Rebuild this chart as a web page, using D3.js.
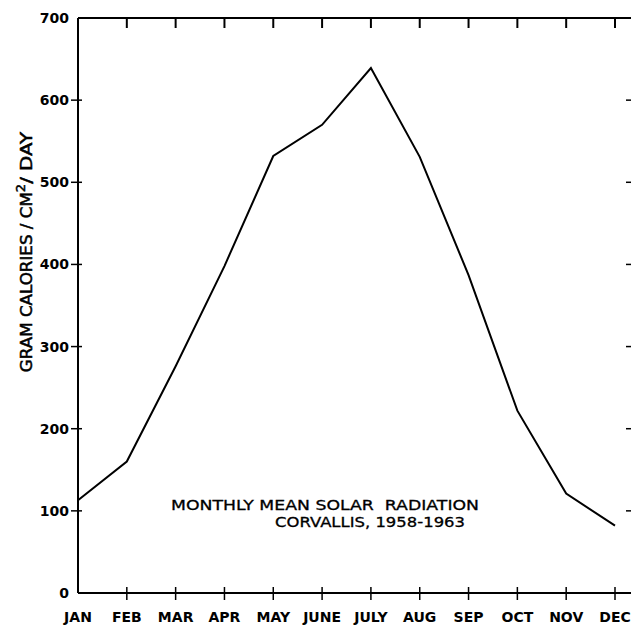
<!DOCTYPE html>
<html>
<head>
<meta charset="utf-8">
<script src="https://d3js.org/d3.v7.min.js"></script>
<style>
  body { margin: 0; background: #fff; }
  svg text { font-family: "DejaVu Sans", sans-serif; fill: #000; }
</style>
</head>
<body>
<div class="chart"></div>
<script>
// data
const months = ["JAN", "FEB", "MAR", "APR", "MAY", "JUNE", "JULY", "AUG", "SEP", "OCT", "NOV", "DEC"];
const radiation = [113, 160, 276, 398, 532, 570, 639, 531, 387, 222, 121, 82];
const yTicks = [0, 100, 200, 300, 400, 500, 600, 700];
const titleLines = ["MONTHLY MEAN SOLAR  RADIATION", "CORVALLIS, 1958-1963"];

const width = 631, height = 627;
const svg = d3.select(".chart").append("svg")
    .attr("width", width)
    .attr("height", height);

const x = d3.scalePoint().domain(months).range([78, 615]);
const y = d3.scaleLinear().domain([0, 700]).range([593, 18]);

const axes = svg.append("g")
    .attr("stroke", "#000")
    .attr("fill", "none");

// left + bottom + top frame
axes.append("line").attr("x1", 78).attr("x2", 78).attr("y1", y(0)).attr("y2", y(700)).attr("stroke-width", 2);
axes.append("line").attr("x1", 78).attr("x2", width).attr("y1", y(0)).attr("y2", y(0)).attr("stroke-width", 2);
axes.append("line").attr("x1", 78).attr("x2", width).attr("y1", y(700)).attr("y2", y(700)).attr("stroke-width", 2);

// y ticks on left (crossing) and right edge
axes.selectAll(".ytick")
    .data(yTicks.filter(d => d > 0 && d < 700))
    .enter().append("line")
    .attr("x1", 71).attr("x2", 82)
    .attr("y1", d => y(d)).attr("y2", d => y(d))
    .attr("stroke-width", 1.5);

axes.selectAll(".ytickr")
    .data(yTicks.filter(d => d > 0 && d < 700))
    .enter().append("line")
    .attr("x1", 626).attr("x2", width)
    .attr("y1", d => y(d)).attr("y2", d => y(d))
    .attr("stroke-width", 1.5);

// month ticks, bottom and top
axes.selectAll(".xtick")
    .data(months.slice(1))
    .enter().append("line")
    .attr("x1", d => x(d)).attr("x2", d => x(d))
    .attr("y1", y(0) - 6).attr("y2", y(0) + 7)
    .attr("stroke-width", 1.5);

axes.selectAll(".xtickt")
    .data(months.slice(1))
    .enter().append("line")
    .attr("x1", d => x(d)).attr("x2", d => x(d))
    .attr("y1", y(700)).attr("y2", y(700) + 10)
    .attr("stroke-width", 2);

// tick labels
svg.append("g").selectAll("text")
    .data(yTicks)
    .enter().append("text")
    .attr("x", 69)
    .attr("y", d => y(d))
    .attr("dy", "0.36em")
    .attr("text-anchor", "end")
    .attr("font-size", 14)
    .attr("font-weight", "bold")
    .text(d => d);

svg.append("g").selectAll("text")
    .data(months)
    .enter().append("text")
    .attr("x", d => x(d))
    .attr("y", 622)
    .attr("text-anchor", "middle")
    .attr("font-size", 14)
    .attr("font-weight", "bold")
    .text(d => d);

// y axis title
const yl = svg.append("text")
    .attr("transform", "translate(32,252) rotate(-90)")
    .attr("text-anchor", "middle")
    .attr("font-size", 15)
    .attr("stroke", "#000")
    .attr("stroke-width", 0.5);
yl.append("tspan").attr("textLength", 180).attr("lengthAdjust", "spacingAndGlyphs").text("GRAM  CALORIES / CM");
yl.append("tspan").attr("dy", -7).attr("font-size", 13).text("2");
yl.append("tspan").attr("dy", 7).attr("textLength", 52).attr("lengthAdjust", "spacingAndGlyphs").text("/ DAY");

// the curve
const line = d3.line()
    .x((d, i) => x(months[i]))
    .y(d => y(d));

svg.append("path")
    .datum(radiation)
    .attr("d", line)
    .attr("fill", "none")
    .attr("stroke", "#000")
    .attr("stroke-width", 2);

// caption
svg.append("text")
    .attr("x", 171).attr("y", 510)
    .attr("font-size", 14)
    .attr("stroke", "#000")
    .attr("stroke-width", 0.3)
    .attr("textLength", 308)
    .attr("lengthAdjust", "spacingAndGlyphs")
    .style("white-space", "pre")
    .text(titleLines[0]);
svg.append("text")
    .attr("x", 275).attr("y", 527)
    .attr("font-size", 14)
    .attr("stroke", "#000")
    .attr("stroke-width", 0.3)
    .attr("textLength", 190)
    .attr("lengthAdjust", "spacingAndGlyphs")
    .text(titleLines[1]);
</script>
</body>
</html>
